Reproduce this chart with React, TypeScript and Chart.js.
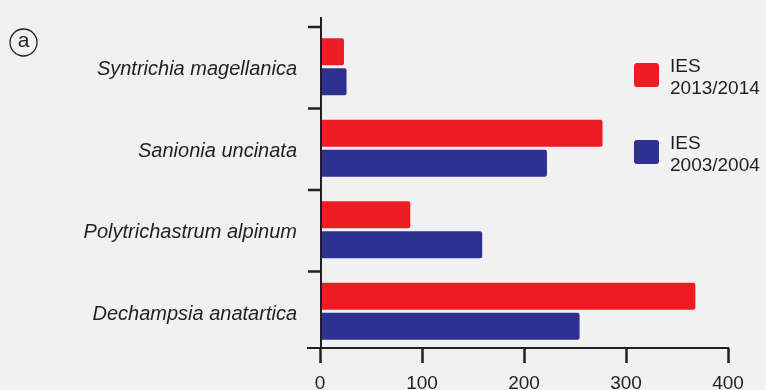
import React, { useEffect, useRef } from "react";
import { Chart, registerables } from "chart.js";

Chart.register(...registerables);

// ---- data ----
const categories = [
  "Syntrichia magellanica",
  "Sanionia uncinata",
  "Polytrichastrum alpinum",
  "Dechampsia anatartica",
];
const seriesNames = ["IES\n2013/2014", "IES\n2003/2004"];
const ies2013_2014 = [23.5, 277, 88.5, 368];
const ies2003_2004 = [26, 222.5, 159, 254.5];
const xTickValues = [0, 100, 200, 300, 400];
const panelLabel = "a";

const RED = "#ED1C24";
const BLUE = "#2E3192";
const INK = "#231f20";
const FONT = "'Liberation Sans', Helvetica, Arial, sans-serif";

const decorPlugin = {
  id: "decor",
  afterDraw(chart: any) {
    const { ctx, chartArea, scales } = chart;
    const x = scales.x;
    const y = scales.y;
    const x0 = x.getPixelForValue(xTickValues[0]);
    const xEnd = x.getPixelForValue(xTickValues[xTickValues.length - 1]);
    const axisY = chartArea.bottom - 4;
    const spacing = y.getPixelForValue(1) - y.getPixelForValue(0);

    ctx.save();
    ctx.strokeStyle = INK;
    ctx.lineCap = "butt";

    // y axis line
    ctx.lineWidth = 2;
    ctx.beginPath();
    ctx.moveTo(x0 + 1, chartArea.top - 9);
    ctx.lineTo(x0 + 1, axisY);
    ctx.stroke();

    // x axis line
    ctx.beginPath();
    ctx.moveTo(x0 - 13, axisY);
    ctx.lineTo(xEnd + 1, axisY);
    ctx.stroke();

    // y ticks at category boundaries
    ctx.lineWidth = 2.5;
    categories.forEach((_, i) => {
      const by = y.getPixelForValue(i) - spacing / 2 + 1;
      ctx.beginPath();
      ctx.moveTo(x0 - 12, by);
      ctx.lineTo(x0 + 1, by);
      ctx.stroke();
    });

    // x ticks
    xTickValues.forEach((v) => {
      const px = x.getPixelForValue(v) + 0.5;
      ctx.beginPath();
      ctx.moveTo(px, axisY);
      ctx.lineTo(px, axisY + 15);
      ctx.stroke();
    });

    // legend
    const itemTops = [63, 140];
    chart.data.datasets.forEach((ds: any, i: number) => {
      const top = itemTops[i];
      ctx.fillStyle = ds.backgroundColor;
      ctx.beginPath();
      (ctx as any).roundRect(634, top, 25, 24, 3);
      ctx.fill();
      ctx.fillStyle = INK;
      ctx.font = `19px ${FONT}`;
      ctx.textAlign = "left";
      ctx.textBaseline = "alphabetic";
      String(ds.label)
        .split("\n")
        .forEach((line: string, j: number) => {
          ctx.fillText(line, 670, top + 8.5 + j * 22);
        });
    });

    // panel label
    ctx.lineWidth = 1.3;
    ctx.beginPath();
    ctx.arc(23.5, 42.5, 13.5, 0, Math.PI * 2);
    ctx.stroke();
    ctx.fillStyle = INK;
    ctx.font = `21px ${FONT}`;
    ctx.textAlign = "center";
    ctx.textBaseline = "middle";
    ctx.fillText(panelLabel, 23.5, 41.5);

    ctx.restore();
  },
};

export default function App() {
  const canvasRef = useRef<HTMLCanvasElement | null>(null);

  useEffect(() => {
    if (!canvasRef.current) return;
    const chart = new Chart(canvasRef.current, {
      type: "bar",
      data: {
        labels: categories,
        datasets: [
          {
            label: seriesNames[0],
            data: ies2013_2014,
            backgroundColor: RED,
            borderRadius: 2,
            borderSkipped: "start",
            categoryPercentage: 0.736,
            barPercentage: 0.9,
          },
          {
            label: seriesNames[1],
            data: ies2003_2004,
            backgroundColor: BLUE,
            borderRadius: 2,
            borderSkipped: "start",
            categoryPercentage: 0.736,
            barPercentage: 0.9,
          },
        ],
      },
      options: {
        indexAxis: "y",
        animation: false,
        responsive: true,
        maintainAspectRatio: false,
        layout: { padding: { top: 26, right: 38, left: 0, bottom: 0 } },
        plugins: {
          legend: { display: false },
          tooltip: { enabled: false },
        },
        scales: {
          x: {
            type: "linear",
            min: 0,
            max: 400,
            afterBuildTicks: (scale: any) => {
              scale.ticks = xTickValues.map((v) => ({ value: v }));
            },
            afterFit: (scale: any) => {
              scale.height = 38;
              scale.paddingLeft = 0;
              scale.paddingRight = 0;
            },
            grid: { display: false },
            border: { display: false },
            ticks: {
              color: INK,
              font: { family: FONT, size: 19 },
              padding: 12,
              maxRotation: 0,
            },
          },
          y: {
            type: "category",
            afterFit: (scale: any) => {
              scale.width = 320;
              scale.paddingTop = 0;
              scale.paddingBottom = 0;
            },
            grid: { display: false },
            border: { display: false },
            ticks: {
              color: INK,
              font: { family: FONT, size: 20, style: "italic" },
              padding: 15,
              labelOffset: 3,
            },
          },
        },
      },
      plugins: [decorPlugin],
    });
    return () => chart.destroy();
  }, []);

  return (
    <div
      style={{
        position: "absolute",
        left: 0,
        top: 0,
        width: 766,
        height: 390,
        background: "#f1f1f1",
      }}
    >
      <canvas ref={canvasRef} />
    </div>
  );
}
